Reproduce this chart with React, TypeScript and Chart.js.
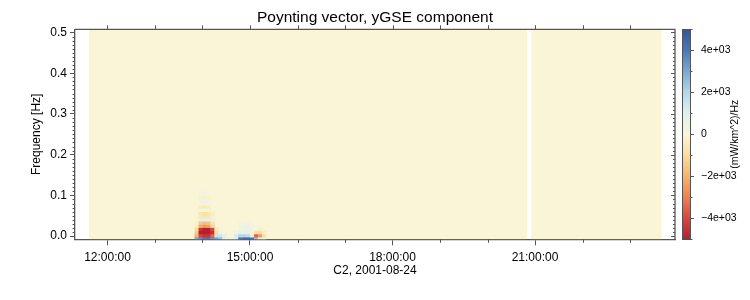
import React, { useEffect, useRef } from "react";
import { Chart, registerables } from "chart.js";

Chart.register(...registerables);

// ---------- text ----------
const titleText = "Poynting vector, yGSE component";
const xTitleText = "C2, 2001-08-24";
const yTitleText = "Frequency [Hz]";
const cbTitleText = "(mW/km^2)/Hz";

// ---------- axes ----------
const xMinHour = 11.316;
const xMaxHour = 23.947;
const yMinHz = -0.0078;
const yMaxHz = 0.5078;
const cbMin = -5000;
const cbMax = 5000;
const xTickHours = [12, 15, 18, 21];
const xMinorHours = [12, 13, 14, 15, 16, 17, 18, 19, 20, 21, 22, 23];
const yTicks = [0, 0.1, 0.2, 0.3, 0.4, 0.5];
const cbTicks = [-4000, -2000, 0, 2000, 4000];
const cbMinorTicks = [-5000, -3000, -1000, 1000, 3000, 5000];

// ---------- data ----------
// time spans covered by the spectrogram (outside them: no data)
const coverageStart = ["11:36:36", "20:55:12"];
const coverageEnd = ["20:50:10", "23:40:00"];

// active region: 5-minute columns
const colStarts = [
  "13:45", "13:50", "13:55", "14:00", "14:05", "14:10", "14:15", "14:20", "14:25", "14:30",
  "14:35", "14:40", "14:45", "14:50", "14:55", "15:00", "15:05", "15:10", "15:15", "15:20",
];
const colMinutes = 5;
// frequency rows (centre, Hz)
const rowCentersHz = [
  -0.0059, 0.002, 0.0098, 0.0176, 0.0254, 0.0332, 0.041, 0.0488,
  0.0566, 0.0645, 0.0723, 0.0801, 0.0879, 0.0957, 0.1035, 0.1113,
];
const rowHeightHz = 0.0078125;

// values (mW/km^2)/Hz, one array per frequency row, one entry per column
const row00 = [0, 3000, 3500, 4000, 4000, 3500, 3000, 2500, 800, 300, 300, 1000, 4000, 4500, 4500, 4000, 2500, 1000, 300, 0];
const row01 = [0, -2000, -4000, -4500, -4500, -3500, 1500, 1500, 800, 0, 300, 1200, 2000, 2000, 1800, 800, -3500, -2500, -800, 0];
const row02 = [0, -1500, -5000, -5000, -5000, -4500, -800, 300, 0, 0, 0, 300, 800, 800, 800, 300, -800, -1000, -300, 0];
const row03 = [0, -1000, -4500, -5000, -5000, -4000, -500, 0, 0, 0, 0, 0, 400, 500, 500, 300, 0, -300, 0, 0];
const row04 = [0, -400, -2200, -2600, -2400, -1200, 0, 0, 0, 0, 0, 0, 500, 700, 700, 400, 0, 0, 0, 0];
const row05 = [0, -200, -1500, -1800, -1600, -700, 0, 0, 0, 0, 0, 0, 300, 300, 300, 0, 0, 0, 0, 0];
const row06 = [0, 0, 800, 1000, 900, 400, 0, 0, 0, 0, 0, 0, 0, 0, 0, 0, 0, 0, 0, 0];
const row07 = [0, 0, -500, -700, -600, -200, 0, 0, 0, 0, 0, 0, 0, 0, 0, 0, 0, 0, 0, 0];
const row08 = [0, 0, -700, -900, -700, -300, 0, 0, 0, 0, 0, 0, 0, 0, 0, 0, 0, 0, 0, 0];
const row09 = [0, 0, 250, 300, 250, 0, 0, 0, 0, 0, 0, 0, 0, 0, 0, 0, 0, 0, 0, 0];
const row10 = [0, 0, -450, -550, -400, 0, 0, 0, 0, 0, 0, 0, 0, 0, 0, 0, 0, 0, 0, 0];
const row11 = [0, 0, 200, 250, 200, 0, 0, 0, 0, 0, 0, 0, 0, 0, 0, 0, 0, 0, 0, 0];
const row12 = [0, 0, 450, 550, 400, 0, 0, 0, 0, 0, 0, 0, 0, 0, 0, 0, 0, 0, 0, 0];
const row13 = [0, 0, -200, -250, -200, 0, 0, 0, 0, 0, 0, 0, 0, 0, 0, 0, 0, 0, 0, 0];
const row14 = [0, 0, 250, 300, 200, 0, 0, 0, 0, 0, 0, 0, 0, 0, 0, 0, 0, 0, 0, 0];
const row15 = [0, 0, 200, 200, 150, 0, 0, 0, 0, 0, 0, 0, 0, 0, 0, 0, 0, 0, 0, 0];
const rowValues = [row00, row01, row02, row03, row04, row05, row06, row07, row08, row09, row10, row11, row12, row13, row14, row15];

// ---------- style ----------
const cmapValues = [-5000, -4000, -3000, -2000, -1000, 0, 1000, 2000, 3000, 4000, 5000];
const cmapColors = [
  "#b41f2f", "#d8463f", "#ee8150", "#f6b46d", "#fbdc9d", "#faf5d7",
  "#e0f0ef", "#b4d7ea", "#78a8d2", "#4a78b7", "#34559f",
];
const frameColor = "#555555";
const fontFamily = "'Liberation Sans', Arial, Helvetica, sans-serif";

function hexToRgb(h: string) {
  return [parseInt(h.slice(1, 3), 16), parseInt(h.slice(3, 5), 16), parseInt(h.slice(5, 7), 16)];
}
const cmapRgb = cmapColors.map(hexToRgb);

function cmap(v: number): string {
  const n = cmapValues.length;
  if (v <= cmapValues[0]) return cmapColors[0];
  if (v >= cmapValues[n - 1]) return cmapColors[n - 1];
  for (let i = 0; i < n - 1; i++) {
    const a = cmapValues[i], b = cmapValues[i + 1];
    if (v >= a && v <= b) {
      const t = (v - a) / (b - a);
      const c0 = cmapRgb[i], c1 = cmapRgb[i + 1];
      const c = c0.map((c0v, k) => Math.round(c0v + (c1[k] - c0v) * t));
      return `rgb(${c[0]},${c[1]},${c[2]})`;
    }
  }
  return cmapColors[5];
}

function toHours(s: string): number {
  const p = s.split(":").map(Number);
  return p[0] + (p[1] || 0) / 60 + (p[2] || 0) / 3600;
}

function pad2(n: number) {
  return n < 10 ? "0" + n : "" + n;
}

const heatPlugin = {
  id: "heatmap",
  beforeDatasetsDraw(chart: any) {
    const { ctx, chartArea: a, scales } = chart;
    const x = scales.x, y = scales.y;
    ctx.save();
    ctx.beginPath();
    ctx.rect(a.left, a.top, a.right - a.left, a.bottom - a.top);
    ctx.clip();
    const yTop = y.getPixelForValue(yMaxHz);
    const yBot = y.getPixelForValue(yMinHz);
    ctx.fillStyle = cmap(0);
    for (let i = 0; i < coverageStart.length; i++) {
      const x0 = x.getPixelForValue(toHours(coverageStart[i]));
      const x1 = x.getPixelForValue(toHours(coverageEnd[i]));
      ctx.fillRect(x0, yTop, x1 - x0, yBot - yTop);
    }
    for (let r = 0; r < rowCentersHz.length; r++) {
      const c = rowCentersHz[r];
      const py0 = y.getPixelForValue(c + rowHeightHz / 2);
      const py1 = y.getPixelForValue(c - rowHeightHz / 2);
      for (let k = 0; k < colStarts.length; k++) {
        const v = rowValues[r][k];
        if (v === 0) continue;
        const t0 = toHours(colStarts[k]);
        const px0 = x.getPixelForValue(t0);
        const px1 = x.getPixelForValue(t0 + colMinutes / 60);
        ctx.fillStyle = cmap(v);
        ctx.fillRect(px0, py0, px1 - px0 + 0.5, py1 - py0 + 0.5);
      }
    }
    ctx.restore();
  },
  afterDraw(chart: any) {
    const { ctx, chartArea: a, scales } = chart;
    const x = scales.x, y = scales.y, cb = scales.cb;
    ctx.save();
    ctx.strokeStyle = frameColor;
    // top & right frame
    ctx.lineWidth = 1.3;
    ctx.beginPath();
    ctx.moveTo(a.left, a.top);
    ctx.lineTo(a.right, a.top);
    ctx.lineTo(a.right, a.bottom);
    ctx.stroke();
    ctx.lineWidth = 1;
    // x ticks: top (outward) and bottom minor
    ctx.beginPath();
    for (const h of xMinorHours) {
      const px = Math.round(x.getPixelForValue(h)) + 0.5;
      ctx.moveTo(px, a.top);
      ctx.lineTo(px, a.top - 4);
      if (!xTickHours.includes(h)) {
        ctx.moveTo(px, a.bottom);
        ctx.lineTo(px, a.bottom + 3.5);
      }
    }
    // y minor ticks (left outward, right inward)
    for (let i = 0; i <= 50; i++) {
      const f = i / 100;
      const py = Math.round(y.getPixelForValue(f)) + 0.5;
      const major = i % 10 === 0;
      if (!major) {
        ctx.moveTo(a.left, py);
        ctx.lineTo(a.left - 2.5, py);
      }
      ctx.moveTo(a.right, py);
      ctx.lineTo(a.right - (major ? 4 : 2), py);
    }
    ctx.stroke();

    // colorbar
    const bx0 = a.right + 7;
    const bx1 = a.right + 16;
    const top = cb.getPixelForValue(cbMax);
    const bot = cb.getPixelForValue(cbMin);
    for (let py = Math.floor(top); py < bot; py++) {
      const v = cb.getValueForPixel(py + 0.5);
      ctx.fillStyle = cmap(v);
      ctx.fillRect(bx0, py, bx1 - bx0, 1);
    }
    ctx.strokeStyle = frameColor;
    ctx.lineWidth = 1;
    ctx.strokeRect(bx0 + 0.5, top + 0.5, bx1 - bx0 - 1, bot - top - 1);
    ctx.beginPath();
    for (const v of cbTicks) {
      const py = Math.round(cb.getPixelForValue(v)) + 0.5;
      ctx.moveTo(bx1, py);
      ctx.lineTo(bx1 + 3, py);
    }
    for (const v of cbMinorTicks) {
      const py = Math.round(cb.getPixelForValue(v)) + 0.5;
      ctx.moveTo(bx1, py);
      ctx.lineTo(bx1 + 1.5, py);
    }
    ctx.stroke();
    // colorbar title (reads bottom to top)
    ctx.fillStyle = "#000";
    ctx.font = `10.5px ${fontFamily}`;
    ctx.textAlign = "center";
    ctx.textBaseline = "middle";
    ctx.translate(735, (top + bot) / 2);
    ctx.rotate(-Math.PI / 2);
    ctx.fillText(cbTitleText, 0, 0);
    ctx.restore();
  },
};

export default function App() {
  const ref = useRef<HTMLCanvasElement | null>(null);
  useEffect(() => {
    document.body.style.margin = "0";
    const canvas = ref.current;
    if (!canvas) return;
    Chart.defaults.font.family = fontFamily;
    Chart.defaults.color = "#000";
    const chart = new Chart(canvas, {
      type: "scatter",
      data: { datasets: [{ data: [], pointRadius: 0 }] },
      options: {
        animation: false,
        responsive: false,
        devicePixelRatio: 1,
        layout: { padding: 0 },
        plugins: {
          legend: { display: false },
          tooltip: { enabled: false },
          title: {
            display: true,
            text: titleText,
            color: "#000",
            font: { size: 15.5, weight: "normal", lineHeight: 1.2 },
            padding: { top: 8.7, bottom: 2.0 },
          },
        },
        scales: {
          x: {
            type: "linear",
            position: "bottom",
            min: xMinHour,
            max: xMaxHour,
            afterBuildTicks: (axis: any) => {
              axis.ticks = xTickHours.map((v) => ({ value: v }));
            },
            afterFit: (axis: any) => {
              axis.height = 60.7;
            },
            ticks: {
              font: { size: 12 },
              padding: 5,
              maxRotation: 0,
              callback: (v: any) => `${pad2(Number(v))}:00:00`,
            },
            grid: { display: true, drawOnChartArea: false, drawTicks: true, tickLength: 6, color: frameColor },
            border: { display: true, color: frameColor, width: 1.3 },
            title: { display: true, text: xTitleText, font: { size: 12 }, padding: { top: 0, bottom: 22.5 } },
          },
          y: {
            type: "linear",
            position: "left",
            min: yMinHz,
            max: yMaxHz,
            afterBuildTicks: (axis: any) => {
              axis.ticks = yTicks.map((v) => ({ value: v }));
            },
            afterFit: (axis: any) => {
              axis.width = 75;
            },
            ticks: {
              font: { size: 12 },
              padding: 3,
              callback: (v: any) => Number(v).toFixed(1),
            },
            grid: { display: true, drawOnChartArea: false, drawTicks: true, tickLength: 5, color: frameColor },
            border: { display: true, color: frameColor, width: 1.3 },
            title: { display: true, text: yTitleText, font: { size: 12 }, padding: { top: 29.5, bottom: 0 } },
          },
          cb: {
            type: "linear",
            axis: "y",
            position: "right",
            min: cbMin,
            max: cbMax,
            afterBuildTicks: (axis: any) => {
              axis.ticks = cbTicks.map((v) => ({ value: v }));
            },
            afterFit: (axis: any) => {
              axis.width = 75;
            },
            ticks: {
              font: { size: 10.5 },
              padding: 18,
              callback: (v: any) => {
                const n = Number(v);
                if (n === 0) return "0";
                return `${n < 0 ? "\u2212" : ""}${Math.abs(n) / 1000}e+03`;
              },
            },
            grid: { display: false },
            border: { display: false },
          },
        },
      },
      plugins: [heatPlugin],
    } as any);
    return () => chart.destroy();
  }, []);
  return (
    <div style={{ width: 750, height: 300, background: "#fff" }}>
      <canvas ref={ref} width={750} height={300} style={{ display: "block" }} />
    </div>
  );
}
